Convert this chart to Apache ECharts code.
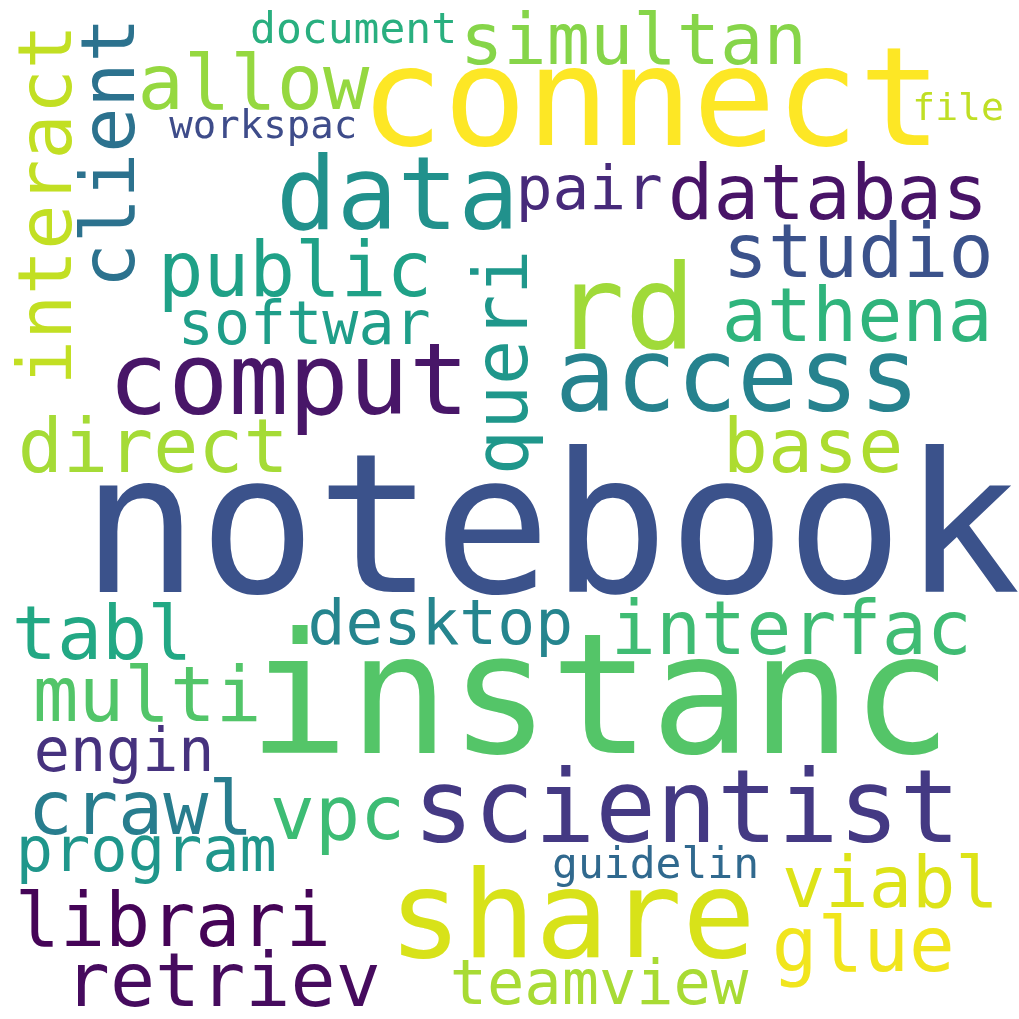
<!DOCTYPE html>
<html>
<head>
<meta charset="utf-8">
<script src="https://cdn.jsdelivr.net/npm/echarts@6/dist/echarts.min.js"></script>
<style>
  html, body { margin: 0; padding: 0; background: #fff; }
  #main { width: 1019px; height: 1019px; }
</style>
</head>
<body>
<div id="main"></div>
<script>
// word list, font size (word weight), colour, rotation
var words = ['notebook', 'instanc', 'connect', 'share', 'rd', 'scientist', 'data', 'comput', 'access',
    'databas', 'studio', 'athena', 'public', 'allow', 'simultan', 'direct', 'base', 'interfac', 'tabl',
    'multi', 'crawl', 'vpc', 'librari', 'retriev', 'viabl', 'glue', 'pair', 'softwar', 'desktop', 'engin',
    'program', 'teamview', 'document', 'guidelin', 'workspac', 'file', 'interact', 'client', 'queri'];
var sizes = [195, 167, 138, 122, 118, 101, 101, 100, 101,
    76, 75, 75, 76, 77, 72, 75, 75, 75, 75,
    76, 75, 75, 75, 75, 72, 76, 61, 60, 63, 60,
    62, 62, 43, 43, 39, 38, 75, 75, 75];
var colors = ['#3b528b', '#54c568', '#fde725', '#d8e219', '#a0da39', '#443983', '#21918c', '#481668', '#26828e',
    '#481467', '#3b528b', '#2fb47c', '#1fa187', '#95d840', '#86d549', '#a5db36', '#addc30', '#3fbc73', '#22a884',
    '#52c569', '#287d8e', '#3dbc74', '#450457', '#460b5e', '#dde318', '#f1e51d', '#472a7a', '#1f9e89', '#25858e', '#46327e',
    '#1f968b', '#a8db34', '#29af7f', '#30698e', '#3e4c8a', '#c0df25', '#c2df23', '#2c728e', '#1f978b'];
var rotations = [0, 0, 0, 0, 0, 0, 0, 0, 0,
    0, 0, 0, 0, 0, 0, 0, 0, 0, 0,
    0, 0, 0, 0, 0, 0, 0, 0, 0, 0, 0,
    0, 0, 0, 0, 0, 0, 90, 90, 90];
// where each word sits: start of the ink and the baseline (pixels)
var xs = [95, 260, 370, 397, 562, 420, 283, 115, 562,
    673, 728, 727, 163, 143, 465, 23, 728, 616, 17,
    38, 33, 275, 20, 70, 787, 777, 520, 182, 312, 38,
    20, 454, 253, 555, 172, 915, 72, 135, 528];
var ys = [594, 755, 146, 958, 350, 843, 230, 415, 412,
    220, 278, 342, 297, 110, 65, 473, 473, 655, 660,
    722, 835, 840, 947, 1007, 908, 972, 210, 345, 645, 772,
    872, 1005, 43, 878, 138, 120, 380, 283, 470];

var MID = 0.27;   // em middle above baseline
var LSB = 0.07;   // left side bearing

var data = [];
for (var i = 0; i < words.length; i++) {
    var s = sizes[i];
    var px, py;
    if (rotations[i] === 90) {
        px = xs[i] - MID * s;
        py = ys[i] + LSB * s;
    } else {
        px = xs[i] - LSB * s;
        py = ys[i] - MID * s;
    }
    data.push({
        value: [px, py],
        label: {
            formatter: words[i],
            fontSize: s,
            color: colors[i],
            rotate: rotations[i]
        }
    });
}

var chart = echarts.init(document.getElementById('main'));
var option = {
    backgroundColor: '#ffffff',
    animation: false,
    grid: {left: 0, right: 0, top: 0, bottom: 0},
    xAxis: {type: 'value', min: 0, max: 1019, show: false},
    yAxis: {type: 'value', min: 0, max: 1019, inverse: true, show: false},
    series: [{
        type: 'scatter',
        symbolSize: 0,
        itemStyle: {opacity: 1},
        data: data,
        label: {
            show: true,
            position: 'inside',
            align: 'left',
            verticalAlign: 'middle',
            opacity: 1,
            fontFamily: 'DejaVu Sans Mono',
            fontWeight: 'normal'
        }
    }]
};
chart.setOption(option);
</script>
</body>
</html>
